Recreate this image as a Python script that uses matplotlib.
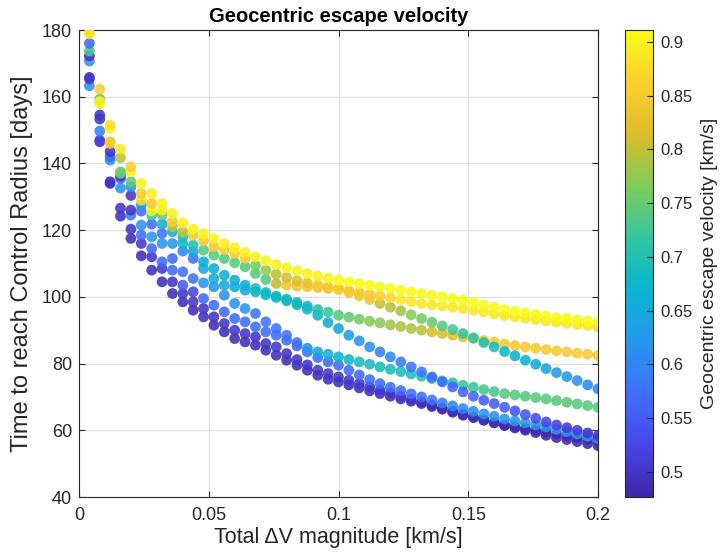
import numpy as np
import matplotlib
matplotlib.use("Agg")
import matplotlib.pyplot as plt
from matplotlib.colors import LinearSegmentedColormap, Normalize

# ---------------- data ----------------
delta_v = [0.004, 0.008, 0.012, 0.016, 0.020, 0.024, 0.028, 0.032, 0.036, 0.040,
           0.044, 0.048, 0.052, 0.056, 0.060, 0.064, 0.068, 0.072, 0.076, 0.080,
           0.084, 0.088, 0.092, 0.096, 0.100, 0.104, 0.108, 0.112, 0.116, 0.120,
           0.124, 0.128, 0.132, 0.136, 0.140, 0.144, 0.148, 0.152, 0.156, 0.160,
           0.164, 0.168, 0.172, 0.176, 0.180, 0.184, 0.188, 0.192, 0.196, 0.200]

t_track1 = [179.3, 162.3, 151.5, 144.3, 139.0, 134.0, 131.0, 128.0, 125.0, 122.2,
            120.3, 118.9, 117.5, 116.0, 114.7, 113.3, 112.0, 110.8, 109.7, 108.7,
            107.8, 107.0, 106.2, 105.6, 105.0, 104.5, 104.0, 103.5, 103.0, 102.5,
            102.0, 101.5, 101.0, 100.5, 100.0, 99.5, 99.0, 98.3, 97.6, 96.9,
            96.2, 95.7, 95.2, 94.7, 94.2, 93.8, 93.5, 93.1, 92.8, 92.4]
t_track2 = [178.8, 158.5, 150.5, 141.7, 137.5, 131.0, 128.0, 126.0, 122.5, 119.5,
            118.5, 116.8, 115.0, 114.2, 113.0, 111.5, 109.5, 108.0, 106.8, 105.8,
            104.8, 104.2, 103.6, 103.0, 102.5, 101.9, 101.4, 100.8, 100.3, 99.7,
            99.1, 98.6, 98.0, 97.6, 97.3, 96.9, 96.5, 96.0, 95.5, 94.9,
            94.4, 94.0, 93.6, 93.2, 92.8, 92.4, 92.1, 91.7, 91.4, 91.0]
t_track3 = [173.7, 158.0, 146.0, 137.0, 133.0, 127.5, 124.5, 121.8, 119.5, 116.0,
            113.5, 110.5, 108.5, 106.5, 105.0, 103.5, 102.5, 101.3, 100.2, 99.3,
            98.3, 97.2, 96.2, 95.4, 94.5, 93.9, 93.3, 92.7, 92.2, 91.6,
            91.1, 90.5, 90.0, 89.5, 89.0, 88.5, 88.0, 87.5, 86.9, 86.4,
            85.8, 85.4, 85.0, 84.6, 84.2, 83.8, 83.5, 83.1, 82.8, 82.4]
t_track4 = [176.0, 159.3, 146.5, 137.5, 134.5, 129.0, 125.8, 124.5, 121.0, 118.0,
            115.5, 114.0, 112.5, 111.5, 110.2, 109.0, 107.0, 105.2, 104.0, 103.5,
            103.2, 103.0, 102.8, 102.5, 102.2, 101.3, 100.3, 99.2, 98.0, 96.9,
            95.8, 94.6, 93.5, 92.4, 91.3, 90.2, 89.0, 87.7, 86.3, 85.0,
            83.6, 82.3, 81.0, 79.8, 78.5, 77.3, 76.1, 74.9, 73.6, 72.4]
t_track5 = [170.7, 153.3, 142.0, 135.5, 126.0, 121.5, 118.0, 116.0, 111.5, 107.5,
            105.5, 104.2, 103.0, 100.5, 98.0, 96.5, 95.0, 92.5, 90.5, 88.5,
            86.3, 84.6, 83.5, 82.8, 82.0, 81.2, 80.5, 79.8, 79.0, 78.3,
            77.6, 76.9, 76.2, 75.5, 74.8, 74.2, 73.5, 72.9, 72.2, 71.6,
            71.0, 70.6, 70.2, 69.8, 69.4, 68.9, 68.4, 67.9, 67.4, 66.9]
t_track6 = [172.2, 154.5, 143.5, 136.2, 130.4, 125.7, 121.8, 119.0, 116.0, 113.7,
            111.5, 108.5, 105.5, 103.5, 103.0, 102.0, 101.5, 100.6, 99.8, 98.8,
            97.6, 96.3, 94.5, 92.3, 90.5, 88.5, 86.8, 85.0, 83.5, 82.0,
            80.5, 79.0, 77.5, 76.0, 74.5, 73.0, 71.5, 70.2, 69.0, 68.0,
            66.9, 65.8, 64.7, 63.6, 62.5, 61.6, 60.8, 60.0, 59.2, 58.4]
t_track7 = [165.8, 149.7, 141.0, 132.6, 124.5, 118.5, 114.5, 110.5, 108.0, 103.5,
            101.5, 99.5, 97.5, 95.5, 93.5, 92.5, 91.0, 89.5, 88.5, 87.0,
            85.3, 83.5, 81.8, 80.5, 79.5, 78.0, 76.6, 75.2, 74.0, 72.9,
            71.9, 70.9, 70.0, 69.1, 68.2, 67.3, 66.5, 65.7, 64.9, 64.2,
            63.4, 62.8, 62.2, 61.6, 61.0, 60.3, 59.6, 58.9, 58.2, 57.5]
t_track8 = [165.3, 147.0, 134.5, 126.6, 120.3, 116.0, 112.0, 108.5, 104.5, 101.0,
            98.5, 96.5, 94.0, 92.0, 90.0, 89.0, 88.0, 86.0, 85.0, 83.0,
            81.2, 79.6, 78.0, 77.0, 76.0, 75.0, 74.0, 73.0, 72.0, 71.1,
            70.2, 69.3, 68.5, 67.6, 66.6, 65.7, 64.8, 63.9, 63.1, 62.2,
            61.4, 60.7, 60.0, 59.3, 58.5, 57.8, 57.2, 56.6, 56.0, 55.4]
t_track9 = [163.3, 146.5, 134.0, 124.2, 117.5, 112.3, 108.0, 104.5, 101.0, 98.5,
            96.0, 94.0, 91.5, 89.5, 87.5, 86.5, 85.5, 84.0, 82.5, 81.0,
            79.5, 78.0, 76.5, 75.3, 74.5, 73.6, 72.7, 71.8, 71.0, 70.2,
            69.4, 68.7, 68.0, 67.1, 66.3, 65.4, 64.5, 63.8, 63.0, 62.3,
            61.6, 61.0, 60.5, 60.0, 59.5, 58.9, 58.3, 57.8, 57.3, 56.8]

v_track1 = [0.88, 0.86, 0.88, 0.89, 0.86, 0.90, 0.90, 0.90, 0.90, 0.90,
            0.90, 0.90, 0.90, 0.90, 0.90, 0.90, 0.90, 0.90, 0.90, 0.90,
            0.90, 0.90, 0.90, 0.90, 0.91, 0.91, 0.91, 0.91, 0.91, 0.91,
            0.91, 0.91, 0.91, 0.91, 0.91, 0.91, 0.91, 0.91, 0.91, 0.91,
            0.91, 0.91, 0.91, 0.91, 0.91, 0.91, 0.91, 0.91, 0.91, 0.91]
v_track2 = [0.88, 0.90, 0.90, 0.80, 0.90, 0.85, 0.85, 0.90, 0.85, 0.80,
            0.85, 0.85, 0.85, 0.85, 0.85, 0.85, 0.76, 0.78, 0.80, 0.81,
            0.82, 0.83, 0.85, 0.85, 0.85, 0.85, 0.85, 0.85, 0.86, 0.87,
            0.89, 0.89, 0.89, 0.89, 0.89, 0.89, 0.89, 0.89, 0.89, 0.89,
            0.89, 0.89, 0.89, 0.89, 0.89, 0.89, 0.89, 0.89, 0.89, 0.87]
v_track3 = [0.73, 0.90, 0.85, 0.75, 0.62, 0.62, 0.72, 0.66, 0.66, 0.68,
            0.65, 0.66, 0.66, 0.66, 0.66, 0.66, 0.68, 0.68, 0.68, 0.68,
            0.68, 0.68, 0.70, 0.72, 0.74, 0.75, 0.76, 0.77, 0.77, 0.78,
            0.79, 0.79, 0.80, 0.81, 0.81, 0.82, 0.83, 0.84, 0.84, 0.85,
            0.85, 0.85, 0.85, 0.85, 0.85, 0.85, 0.85, 0.85, 0.85, 0.85]
v_track4 = [0.57, 0.76, 0.85, 0.75, 0.75, 0.88, 0.90, 0.75, 0.80, 0.70,
            0.70, 0.74, 0.74, 0.74, 0.74, 0.74, 0.74, 0.74, 0.80, 0.84,
            0.84, 0.84, 0.84, 0.84, 0.84, 0.84, 0.84, 0.84, 0.80, 0.79,
            0.78, 0.77, 0.76, 0.75, 0.74, 0.73, 0.72, 0.71, 0.70, 0.69,
            0.68, 0.67, 0.665, 0.655, 0.645, 0.635, 0.625, 0.615, 0.605, 0.60]
v_track5 = [0.62, 0.50, 0.57, 0.57, 0.50, 0.62, 0.62, 0.62, 0.57, 0.58,
            0.58, 0.62, 0.62, 0.62, 0.62, 0.62, 0.58, 0.58, 0.58, 0.58,
            0.58, 0.63, 0.65, 0.66, 0.67, 0.68, 0.69, 0.69, 0.69, 0.69,
            0.69, 0.69, 0.70, 0.70, 0.71, 0.71, 0.72, 0.72, 0.73, 0.73,
            0.74, 0.74, 0.74, 0.74, 0.74, 0.74, 0.74, 0.74, 0.74, 0.74]
v_track6 = [0.50, 0.50, 0.50, 0.50, 0.50, 0.57, 0.57, 0.58, 0.62, 0.60,
            0.58, 0.65, 0.65, 0.65, 0.65, 0.65, 0.68, 0.68, 0.68, 0.68,
            0.68, 0.68, 0.67, 0.66, 0.65, 0.63, 0.62, 0.61, 0.60, 0.60,
            0.59, 0.58, 0.58, 0.57, 0.57, 0.56, 0.56, 0.56, 0.55, 0.55,
            0.55, 0.54, 0.54, 0.53, 0.52, 0.52, 0.51, 0.51, 0.50, 0.50]
v_track7 = [0.50, 0.60, 0.62, 0.62, 0.60, 0.57, 0.57, 0.57, 0.57, 0.55,
            0.52, 0.57, 0.57, 0.57, 0.57, 0.57, 0.57, 0.57, 0.57, 0.57,
            0.57, 0.57, 0.57, 0.57, 0.57, 0.57, 0.57, 0.57, 0.57, 0.57,
            0.57, 0.57, 0.57, 0.58, 0.59, 0.60, 0.60, 0.61, 0.61, 0.62,
            0.62, 0.62, 0.62, 0.62, 0.62, 0.62, 0.62, 0.62, 0.62, 0.62]
v_track8 = [0.52, 0.52, 0.50, 0.50, 0.50, 0.50, 0.50, 0.50, 0.50, 0.50,
            0.50, 0.50, 0.50, 0.50, 0.50, 0.50, 0.50, 0.50, 0.50, 0.50,
            0.50, 0.50, 0.50, 0.50, 0.50, 0.50, 0.50, 0.50, 0.50, 0.50,
            0.50, 0.50, 0.49, 0.49, 0.49, 0.49, 0.49, 0.49, 0.49, 0.49,
            0.48, 0.48, 0.48, 0.48, 0.48, 0.48, 0.48, 0.48, 0.48, 0.48]
v_track9 = [0.62, 0.49, 0.49, 0.49, 0.49, 0.49, 0.49, 0.49, 0.49, 0.49,
            0.49, 0.49, 0.49, 0.49, 0.49, 0.49, 0.49, 0.49, 0.49, 0.49,
            0.49, 0.49, 0.49, 0.49, 0.49, 0.49, 0.49, 0.49, 0.49, 0.49,
            0.49, 0.49, 0.49, 0.49, 0.49, 0.49, 0.49, 0.49, 0.49, 0.49,
            0.49, 0.49, 0.49, 0.49, 0.49, 0.49, 0.49, 0.49, 0.49, 0.49]

x_ticks = [0, 0.05, 0.1, 0.15, 0.2]
x_ticklabels = ["0", "0.05", "0.1", "0.15", "0.2"]
y_ticks = [40, 60, 80, 100, 120, 140, 160, 180]
cbar_ticks = [0.5, 0.55, 0.6, 0.65, 0.7, 0.75, 0.8, 0.85, 0.9]
cbar_ticklabels = ["0.5", "0.55", "0.6", "0.65", "0.7", "0.75", "0.8", "0.85", "0.9"]
c_min, c_max = 0.4767, 0.911

# ---------------- parula-like colormap ----------------
parula_pts = [(0.2422, 0.1504, 0.6603), (0.2803, 0.2782, 0.9221),
              (0.2440, 0.4358, 0.9988), (0.1540, 0.5902, 0.9218),
              (0.0297, 0.7082, 0.8163), (0.1938, 0.7758, 0.6251),
              (0.5044, 0.7993, 0.3480), (0.8634, 0.7406, 0.1596),
              (0.9892, 0.8134, 0.1885), (0.9769, 0.9839, 0.0805)]
parula = LinearSegmentedColormap.from_list("parula", parula_pts, N=256)

plt.rcParams['font.family'] = ['Liberation Sans', 'DejaVu Sans']
txt = '#262626'

tracks_t = [t_track9, t_track8, t_track7, t_track5, t_track6, t_track3, t_track4, t_track2, t_track1]
tracks_v = [v_track9, v_track8, v_track7, v_track5, v_track6, v_track3, v_track4, v_track2, v_track1]
xs = np.concatenate([np.asarray(delta_v) for _ in tracks_t])
ys = np.concatenate([np.asarray(t) for t in tracks_t])
cs = np.concatenate([np.asarray(v) for v in tracks_v])

fig = plt.figure(figsize=(7.21, 5.58), dpi=100)
W, H = 721.0, 558.0
ax = fig.add_axes([79 / W, 1 - 497 / H, (598 - 79) / W, (497 - 30) / H])
cax = fig.add_axes([625 / W, 1 - 497 / H, 28 / W, (497 - 30) / H])

norm = Normalize(vmin=c_min, vmax=c_max)
sc = ax.scatter(xs, ys, c=cs, cmap=parula, norm=norm, s=60, alpha=0.88,
                edgecolors='none', zorder=3)

ax.set_xlim(0, 0.2)
ax.set_ylim(40, 180)
ax.set_xticks(x_ticks)
ax.set_xticklabels(x_ticklabels)
ax.set_yticks(y_ticks)
ax.grid(True, color='#e0e0e0', linewidth=0.9, zorder=0)
ax.set_axisbelow(True)
for sp in ax.spines.values():
    sp.set_color(txt)
    sp.set_linewidth(0.8)
ax.tick_params(direction='in', length=4, width=0.8, color=txt,
               labelcolor=txt, labelsize=13, top=True, right=True)
ax.tick_params(axis='x', pad=7)
ax.tick_params(axis='y', pad=5)

ax.set_xlabel("Total \u0394V magnitude [km/s]", fontsize=15.5, color=txt, labelpad=2)
ax.set_ylabel("Time to reach Control Radius [days]", fontsize=17, color=txt, labelpad=6)
ax.set_title("Geocentric escape velocity", fontsize=14.5, fontweight='bold', color='black', pad=6)

cb = fig.colorbar(sc, cax=cax)
cb.solids.set_alpha(1)
cb.set_ticks(cbar_ticks)
cb.set_ticklabels(cbar_ticklabels)
cb.outline.set_edgecolor(txt)
cb.outline.set_linewidth(0.8)
cax.tick_params(direction='in', length=4, width=0.8, color=txt, labelcolor=txt, labelsize=12, pad=5)
cb.set_label("Geocentric escape velocity [km/s]", fontsize=14, color=txt, labelpad=6)

fig.savefig("out.png", dpi=100)
